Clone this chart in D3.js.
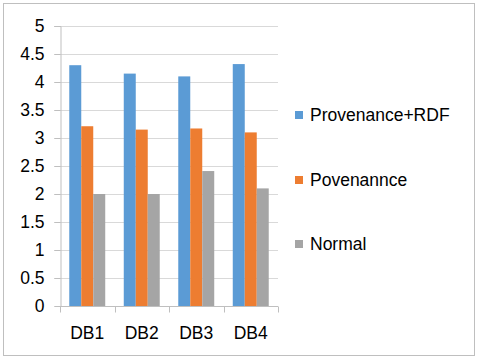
<!DOCTYPE html>
<html>
<head>
<meta charset="utf-8">
<script src="https://cdn.jsdelivr.net/npm/d3@7"></script>
<style>
  body { margin: 0; background: #fff; }
  text { font-family: "Liberation Sans", Arial, sans-serif; fill: #000; }
</style>
</head>
<body>
<script>
// chart data
var categories = ["DB1", "DB2", "DB3", "DB4"];
var seriesNames = ["Provenance+RDF", "Povenannce", "Normal"];
var provRdf = [4.3, 4.15, 4.1, 4.32];
var provenance = [3.21, 3.15, 3.17, 3.1];
var normal = [2.0, 2.0, 2.41, 2.1];
var yTicks = [0, 0.5, 1, 1.5, 2, 2.5, 3, 3.5, 4, 4.5, 5];
var colors = ["#5b9bd5", "#ed7d31", "#a5a5a5"];

var allSeries = [provRdf, provenance, normal];

var width = 480, height = 362;
var margin = { top: 26, left: 60, right: 202, bottom: 56 };

var svg = d3.select("body").append("svg")
    .attr("width", width)
    .attr("height", height);

// outer frame
svg.append("rect")
    .attr("x", 3.5).attr("y", 3.5)
    .attr("width", 471).attr("height", 352)
    .attr("fill", "#fff")
    .attr("stroke", "#bfbfbf");

var x = d3.scaleBand()
    .domain(categories)
    .range([margin.left, width - margin.right]);

var xInner = d3.scaleBand()
    .domain(seriesNames)
    .range([x.bandwidth() * 0.17, x.bandwidth() * 0.83]);

var y = d3.scaleLinear()
    .domain([0, 5])
    .range([height - margin.bottom, margin.top]);

// grid
svg.append("g")
    .selectAll("line")
    .data(yTicks.filter(d => d > 0))
    .join("line")
    .attr("x1", margin.left - 6)
    .attr("x2", width - margin.right)
    .attr("y1", d => Math.round(y(d)) + 0.5)
    .attr("y2", d => Math.round(y(d)) + 0.5)
    .attr("stroke", "#d9d9d9");

// y axis
var gY = svg.append("g")
    .attr("transform", `translate(${margin.left + 0.5},0)`)
    .call(d3.axisLeft(y).tickValues(yTicks).tickSize(6).tickPadding(10).tickFormat(d3.format("")));
gY.selectAll("path, line").attr("stroke", "#bfbfbf");
gY.selectAll("text").attr("font-size", 17.5).attr("font-family", "Liberation Sans, Arial, sans-serif");

// bars
categories.forEach(function (cat, i) {
    svg.append("g")
        .selectAll("rect")
        .data(allSeries.map((s, j) => ({ name: seriesNames[j], value: s[i], color: colors[j] })))
        .join("rect")
        .attr("x", d => x(cat) + xInner(d.name))
        .attr("width", xInner.bandwidth())
        .attr("y", d => y(d.value))
        .attr("height", d => y(0) - y(d.value))
        .attr("fill", d => d.color);
});

// x axis
var xTickPos = categories.map(c => x(c)).concat([width - margin.right]);
var gX = svg.append("g")
    .attr("transform", `translate(0,${Math.round(y(0)) + 0.5})`);
gX.append("line")
    .attr("x1", margin.left).attr("x2", width - margin.right)
    .attr("stroke", "#bfbfbf");
gX.selectAll(".tick")
    .data(xTickPos)
    .join("line")
    .attr("x1", d => Math.round(d) + 0.5)
    .attr("x2", d => Math.round(d) + 0.5)
    .attr("y1", 0).attr("y2", 6)
    .attr("stroke", "#bfbfbf");
gX.selectAll("text")
    .data(categories)
    .join("text")
    .attr("x", d => x(d) + x.bandwidth() / 2)
    .attr("y", 32)
    .attr("text-anchor", "middle")
    .attr("font-size", 17.5)
    .text(d => d);

// legend
var legendY = [115, 180, 244];
var legend = svg.append("g")
    .selectAll("g")
    .data(seriesNames)
    .join("g")
    .attr("transform", (d, i) => `translate(295,${legendY[i]})`);
legend.append("rect")
    .attr("x", 0).attr("y", -4)
    .attr("width", 8).attr("height", 8)
    .attr("fill", (d, i) => colors[i]);
legend.append("text")
    .attr("x", 15)
    .attr("dy", "0.35em")
    .attr("font-size", 17.5)
    .text(d => d);
</script>
</body>
</html>
